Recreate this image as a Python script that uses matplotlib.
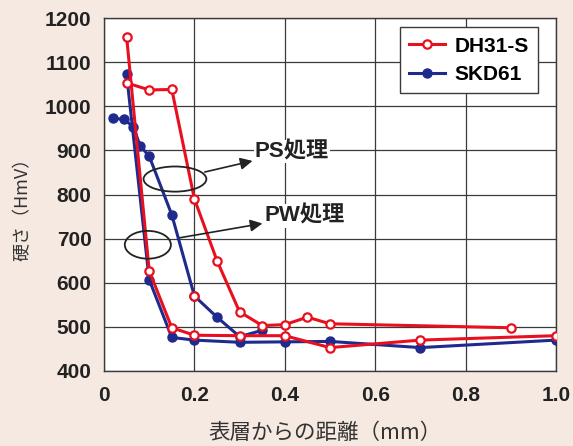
import numpy as np
import matplotlib.pyplot as plt
from matplotlib.patches import Ellipse

# Hardness profiles
# DH31-S, PS treatment
dh_ps_x = [0.05, 0.10, 0.15, 0.20, 0.25, 0.30, 0.35, 0.40, 0.45, 0.50, 0.90]
dh_ps_y = [1053, 1037, 1038, 790, 650, 534, 503, 505, 522, 507, 498]
# DH31-S, PW treatment
dh_pw_x = [0.05, 0.10, 0.15, 0.20, 0.30, 0.40, 0.50, 0.70, 1.00]
dh_pw_y = [1158, 627, 498, 481, 480, 480, 453, 470, 480]
# SKD61, PS treatment
skd_ps_x = [0.02, 0.045, 0.065, 0.08, 0.10, 0.15, 0.20, 0.25, 0.30, 0.35]
skd_ps_y = [973, 970, 953, 910, 887, 754, 570, 522, 478, 492]
# SKD61, PW treatment
skd_pw_x = [0.05, 0.10, 0.15, 0.20, 0.30, 0.40, 0.50, 0.70, 1.00]
skd_pw_y = [1072, 607, 476, 470, 465, 466, 467, 453, 470]

x_ticks = [0, 0.2, 0.4, 0.6, 0.8, 1.0]
x_tick_labels = ['0', '0.2', '0.4', '0.6', '0.8', '1.0']
y_ticks = [400, 500, 600, 700, 800, 900, 1000, 1100, 1200]

red = '#e8101e'
blue = '#1f2a8e'
bg = '#f6e9e2'

plt.rcParams['font.family'] = ['Liberation Sans', 'Noto Sans CJK JP']

fig = plt.figure(figsize=(5.73, 4.46), dpi=100, facecolor=bg)
ax = fig.add_axes([0.1815, 0.1682, 0.7888, 0.7914])
ax.set_facecolor('white')

# SKD61 lines first, DH31-S drawn on top
ax.plot(skd_pw_x, skd_pw_y, color=blue, lw=2.2, marker='o', ms=6.5,
        mfc=blue, mec=blue, zorder=3)
ax.plot(skd_ps_x, skd_ps_y, color=blue, lw=2.2, marker='o', ms=6.5,
        mfc=blue, mec=blue, zorder=3, label='SKD61')
# odd red open marker sitting on the SKD61 curve at 0.2 mm
ax.plot(skd_ps_x[6], skd_ps_y[6], ls='none', marker='o', ms=6,
        mfc='white', mec=red, mew=1.6, zorder=5)

ax.plot(dh_pw_x, dh_pw_y, color=red, lw=2.2, marker='o', ms=6,
        mfc='white', mec=red, mew=1.6, zorder=4)
ax.plot(dh_ps_x, dh_ps_y, color=red, lw=2.2, marker='o', ms=6,
        mfc='white', mec=red, mew=1.6, zorder=4, label='DH31-S')

ax.set_xlim(0, 1.0)
ax.set_ylim(400, 1200)
ax.set_xticks(x_ticks)
ax.set_xticklabels(x_tick_labels)
ax.set_yticks(y_ticks)
ax.tick_params(length=0, labelsize=15, colors='#222222')
ax.tick_params(axis='x', pad=11)
ax.tick_params(axis='y', pad=9)
for lab in ax.get_xticklabels() + ax.get_yticklabels():
    lab.set_fontweight('bold')

ax.grid(True, color='#3a3a3a', lw=0.9)
ax.set_axisbelow(True)
for sp in ax.spines.values():
    sp.set_color('#3a3a3a')
    sp.set_linewidth(1.0)

# axis labels
ax.set_xlabel('表層からの距離（mm）', fontsize=15.5, color='#333333',
              family=['Noto Sans CJK JP'])
ax.set_ylabel('硬さ（HmV）', fontsize=13, color='#333333',
              family=['Noto Sans CJK JP'])
ax.xaxis.set_label_coords(0.49, -0.145)
ax.yaxis.set_label_coords(-0.16, 0.47)

# ellipses marking the two treatment groups
ax.add_patch(Ellipse((0.157, 835), 0.139, 57, fill=False, ec='#222222',
                     lw=1.3, zorder=6))
ax.add_patch(Ellipse((0.097, 686), 0.102, 63, fill=False, ec='#222222',
                     lw=1.3, zorder=6))

ax.annotate('PS処理', xy=(0.223, 851), xytext=(0.334, 897),
            fontsize=16, fontweight='bold', color='#222222', va='center',
            bbox=dict(boxstyle='square,pad=0.05', fc='white', ec='none'),
            arrowprops=dict(arrowstyle='<|-', color='#222222', lw=1.2,
                            mutation_scale=18, shrinkA=1, shrinkB=0),
            zorder=7)
ax.annotate('PW処理', xy=(0.168, 702), xytext=(0.356, 751),
            fontsize=16, fontweight='bold', color='#222222', va='center',
            bbox=dict(boxstyle='square,pad=0.05', fc='white', ec='none'),
            arrowprops=dict(arrowstyle='<|-', color='#222222', lw=1.2,
                            mutation_scale=18, shrinkA=1, shrinkB=0),
            zorder=7)

# legend, DH31-S first
handles, labels = ax.get_legend_handles_labels()
leg = ax.legend(handles[::-1], labels[::-1], loc='upper right',
                bbox_to_anchor=(0.96, 0.974), fancybox=False,
                framealpha=1, edgecolor='#3a3a3a', handlelength=1.7,
                handletextpad=0.45, borderpad=0.45, labelspacing=0.45,
                borderaxespad=0, prop=dict(size=15, weight='bold'))
leg.get_frame().set_linewidth(1.0)
leg.set_zorder(8)

fig.savefig('out.png', dpi=100, facecolor=bg)
